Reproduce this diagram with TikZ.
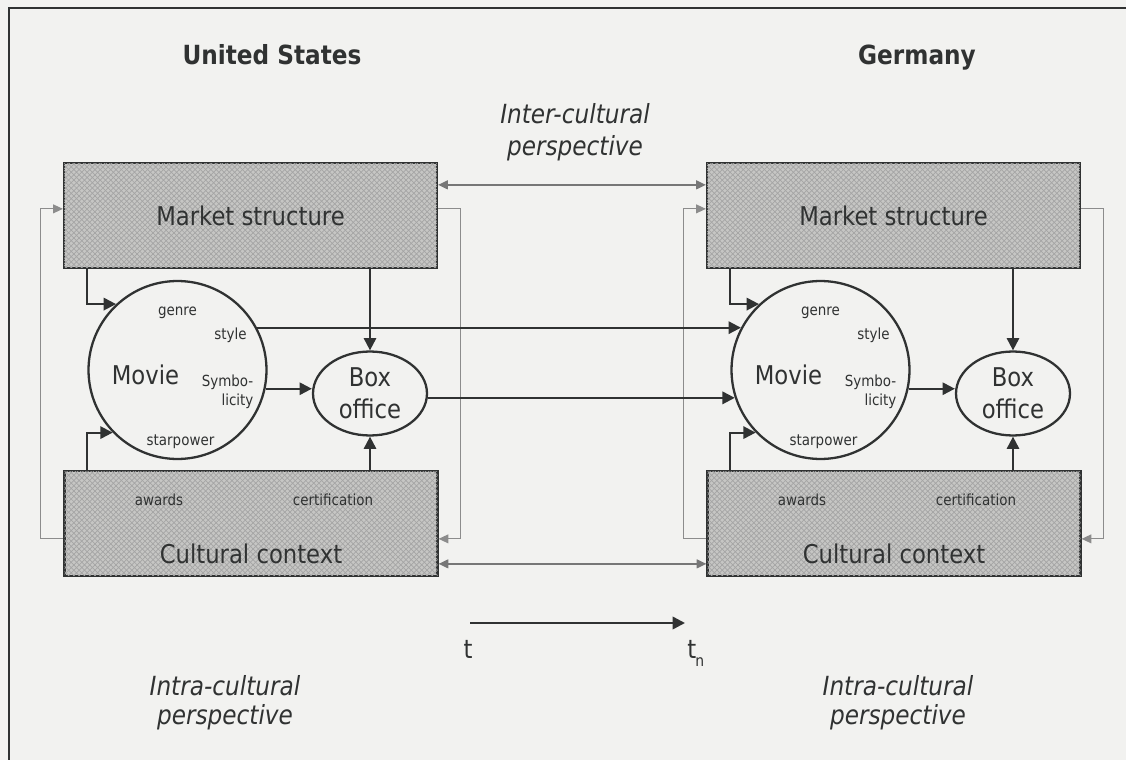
\documentclass[tikz,border=0pt]{standalone}
\usepackage{fontspec}
\setmainfont{DejaVu Sans}[FakeStretch=0.88]
\usetikzlibrary{arrows.meta,shapes.geometric,calc,patterns}
\definecolor{bg}{RGB}{242,242,240}
\definecolor{ink}{RGB}{48,50,50}
\definecolor{boxfill}{RGB}{198,198,196}
\definecolor{hatch}{RGB}{165,165,165}
\definecolor{fb}{RGB}{140,140,140}
\tikzset{
  mainbox/.style={draw=ink, line width=1.3pt, fill=boxfill,
    postaction={pattern=crosshatch, pattern color=hatch},
    minimum width=7.46cm, minimum height=2.1cm, inner sep=0pt, bigtxt},
  circ/.style={circle, draw=ink, line width=1.3pt, minimum size=3.56cm, inner sep=0pt},
  ell/.style={ellipse, draw=ink, line width=1.3pt, minimum width=2.28cm,
    minimum height=1.68cm, inner sep=1pt, align=center, bigtxt},
  arr/.style={draw=ink, line width=1.2pt, -{Triangle[length=7pt,width=7pt]}},
  fbline/.style={draw=fb, line width=0.6pt, -{Triangle[length=5.5pt,width=5pt]}},
  dbl/.style={draw=fb!85!black, line width=0.9pt,
    {Triangle[length=5.5pt,width=5pt]}-{Triangle[length=5.5pt,width=5pt]}},
  bigtxt/.style={font=\fontsize{14.7}{18}\selectfont, text=ink},
  smalltxt/.style={font=\fontsize{8.7}{10.5}\selectfont, text=ink, inner sep=0pt},
  persp/.style={font=\fontsize{15}{18}\selectfont\itshape, text=ink, anchor=base, inner sep=0pt},
  head/.style={font=\fontsize{15}{18}\selectfont\bfseries, text=ink, anchor=base, inner sep=0pt},
}
\begin{document}
\begin{tikzpicture}[x=0.02cm,y=-0.02cm]
\fill[bg] (0,0) rectangle (1126,760);
\useasboundingbox (0,0) rectangle (1126,760);
% frame
\draw[ink, line width=1pt] (9,760) -- (9,8) -- (1126,8);

% headers
\node[head] (hus) at (272,65) {United States};
\node[head] (hde) at (917,65) {Germany};
\node[persp] (inter1) at (575,124) {Inter-cultural};
\node[persp] (inter2) at (575,156) {perspective};
\node[persp] (intraus1) at (225,695) {Intra-cultural};
\node[persp] (intraus2) at (225,724) {perspective};
\node[persp] (intrade1) at (898,695) {Intra-cultural};
\node[persp] (intrade2) at (898,724) {perspective};

\foreach \p/\dx in {us/0, de/643}{
  \node[mainbox] (\p mkt) at (250.5+\dx,215.5) {Market structure};
  \node[mainbox] (\p cult) at (251+\dx,523.5) {};
  \node[bigtxt, anchor=base, inner sep=0pt] (\p cultlbl) at ($(\p cult.center)+(0,39.5)$) {Cultural context};
  \node[smalltxt, anchor=base] (\p awards) at ($(\p cult.center)+(-92,-18.5)$) {awards};
  \node[smalltxt, anchor=base] (\p cert) at ($(\p cult.center)+(82,-18.5)$) {certification};
  \node[circ] (\p movie) at (177.5+\dx,370) {};
  \node[bigtxt, inner sep=0pt] (\p movielbl) at ($(\p movie.center)+(-32,5)$) {Movie};
  \node[smalltxt] (\p genre) at ($(\p movie.center)+(0,-57)$) {genre};
  \node[smalltxt] (\p style) at ($(\p movie.center)+(53,-35)$) {style};
  \node[smalltxt] (\p symb) at ($(\p movie.center)+(50,12)$) {Symbo-};
  \node[smalltxt] (\p lic) at ($(\p movie.center)+(60,31)$) {licity};
  \node[smalltxt] (\p star) at ($(\p movie.center)+(3,72)$) {starpower};
  \node[ell] (\p box) at (370+\dx,393.5) {Box\\office};
  % arrows
  \draw[arr] ($(\p mkt.south west)+(24,0)$) |- (\p movie.133);
  \draw[arr] ($(\p cult.north west)+(24,0)$) |- (\p movie.224);
  \draw[arr] (\p box.north |- \p mkt.south) -- (\p box.north);
  \draw[arr] (\p box.south |- \p cult.north) -- (\p box.south);
  \draw[arr] (\p movie.-12) -- (\p movie.-12 -| \p box.west);
  % feedback loops
  \draw[fbline] ($(\p cult.north west)+(0,69)$) -| ($(\p mkt.north west)+(-22,47)$) -- ($(\p mkt.north west)+(0,47)$);
  \draw[fbline] ($(\p mkt.north east)+(0,47)$) -| ($(\p cult.north east)+(22,69)$) -- ($(\p cult.north east)+(0,69)$);
}

% cross-cultural arrows
\draw[arr] (usmovie.28) -- (demovie.152);
\draw[arr] (demovie.198 -| usbox.east) -- (demovie.198);
\draw[dbl] ($(usmkt.north east)+(0,23)$) -- ($(demkt.north west)+(0,23)$);
\draw[dbl] ($(uscult.north east)+(0,94)$) -- ($(decult.north west)+(0,94)$);

% time arrow
\coordinate (t0) at (470,623);
\coordinate (t1) at (685,623);
\draw[arr, line width=1.4pt] (t0) -- (t1);
\node[bigtxt, anchor=base, inner sep=0pt] (tl) at (468,658) {t};
\node[bigtxt, anchor=base west, inner sep=0pt] (tnl) at (687,658) {t\kern-0.5pt\raisebox{-5pt}{\fontsize{9}{9}\selectfont n}};
\end{tikzpicture}
\end{document}
